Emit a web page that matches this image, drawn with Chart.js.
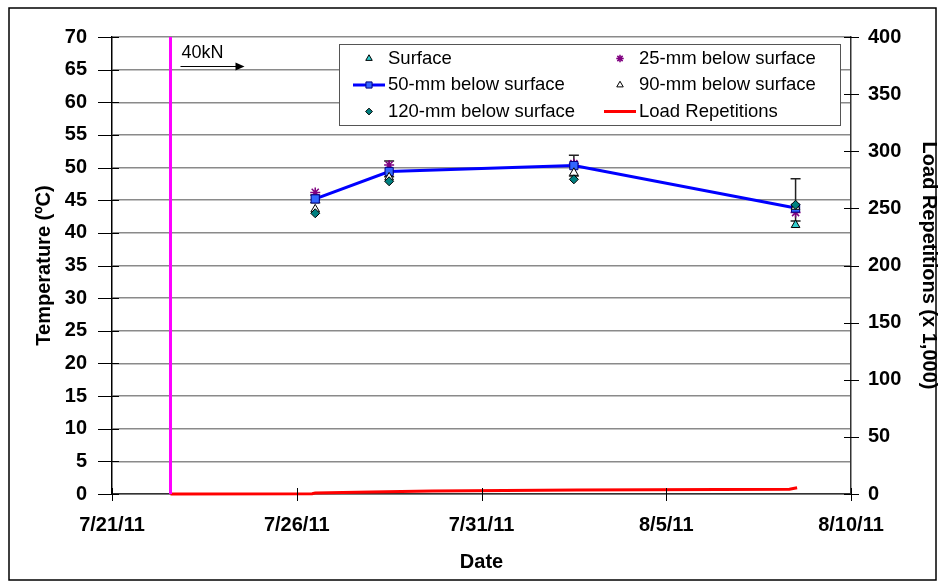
<!DOCTYPE html>
<html>
<head>
<meta charset="utf-8">
<script src="https://cdn.jsdelivr.net/npm/chart.js@4.4.1/dist/chart.umd.min.js"></script>
<style>
  body { margin: 0; background: #fff; }
  canvas { display: block; }
</style>
</head>
<body>
<canvas id="temp-chart" width="945" height="588"></canvas>
<script>
// readings (taken around noon)
const sampleDates = ['2011-07-26T12:00', '2011-07-28T12:00', '2011-08-02T12:00', '2011-08-08T12:00'];
const surface = [45.4, 49.5, 50.4, 41.2];
const mm25 = [46.2, 50.4, 50.6, 43.1];
const mm50 = [45.2, 49.4, 50.3, 43.8];
const mm90 = [43.6, 48.5, 49.2, 44.0];
const mm120 = [43.0, 47.9, 48.2, 44.3];
const errHigh = [45.8, 51.0, 51.9, 48.3];
const errLow = [44.6, 48.6, 48.7, 41.8];

// cumulative load repetitions (x 1,000)
const loadDates = ['2011-07-22T14:00', '2011-07-26T10:00', '2011-07-26T12:00', '2011-07-28T00:00',
  '2011-07-29T16:00', '2011-08-02T14:00', '2011-08-08T08:00', '2011-08-08T13:00'];
const loadReps = [0, 0.3, 0.9, 1.7, 2.6, 3.5, 4.2, 5.5];

const loadStart = '2011-07-22T14:00';   // 40kN starts
const tickDates = ['2011-07-21T00:00', '2011-07-26T00:00', '2011-07-31T00:00', '2011-08-05T00:00', '2011-08-10T00:00'];
const tempTicks = [0, 5, 10, 15, 20, 25, 30, 35, 40, 45, 50, 55, 60, 65, 70];
const repTicks = [0, 50, 100, 150, 200, 250, 300, 350, 400];

const FONT = "'Liberation Sans', Arial, sans-serif";
const ms = s => Date.parse(s + ':00Z');
const pts = (xs, ys) => xs.map((d, i) => ({ x: ms(d), y: ys[i] }));
const fmtDate = v => {
  const d = new Date(v);
  return (d.getUTCMonth() + 1) + '/' + d.getUTCDate() + '/' + String(d.getUTCFullYear()).slice(2);
};

const crossTicks = {
  id: 'crossTicks',
  afterDatasetsDraw(chart) {
    const { ctx, chartArea: a, scales } = chart;
    ctx.save();
    ctx.strokeStyle = '#000';
    ctx.lineWidth = 1;
    const line = (x1, y1, x2, y2) => { ctx.beginPath(); ctx.moveTo(x1, y1); ctx.lineTo(x2, y2); ctx.stroke(); };
    scales.x.ticks.forEach(t => {
      const px = Math.round(scales.x.getPixelForValue(t.value)) + 0.5;
      line(px, a.bottom - 6, px, a.bottom + 7);
    });
    scales.y.ticks.forEach(t => {
      const py = Math.round(scales.y.getPixelForValue(t.value)) + 0.5;
      line(a.left - 14, py, a.left + 7, py);
    });
    scales.y2.ticks.forEach(t => {
      const py = Math.round(scales.y2.getPixelForValue(t.value)) + 0.5;
      line(a.right - 7, py, a.right + 8, py);
    });
    ctx.restore();
  }
};

const errorBars = {
  id: 'errorBars',
  beforeDatasetsDraw(chart) {
    const { ctx, scales: { x, y } } = chart;
    ctx.save();
    ctx.strokeStyle = '#222';
    ctx.lineWidth = 1.5;
    sampleDates.forEach((d, i) => {
      const px = x.getPixelForValue(ms(d));
      const top = y.getPixelForValue(errHigh[i]);
      const bot = y.getPixelForValue(errLow[i]);
      ctx.beginPath();
      ctx.moveTo(px, top); ctx.lineTo(px, bot);
      ctx.moveTo(px - 5, top); ctx.lineTo(px + 5, top);
      ctx.moveTo(px - 5, bot); ctx.lineTo(px + 5, bot);
      ctx.stroke();
    });
    ctx.restore();
  }
};

const loadNote = {
  id: 'loadNote',
  afterDatasetsDraw(chart) {
    const { ctx, chartArea: a, scales: { x } } = chart;
    const x0 = x.getPixelForValue(ms(loadStart)) + 10;
    ctx.save();
    ctx.fillStyle = '#000';
    ctx.strokeStyle = '#000';
    ctx.font = '18px ' + FONT;
    ctx.textBaseline = 'middle';
    ctx.fillText('40kN', x0 + 1, a.top + 16);
    const ay = a.top + 29.5;
    ctx.lineWidth = 1.2;
    ctx.beginPath(); ctx.moveTo(x0, ay); ctx.lineTo(x0 + 58, ay); ctx.stroke();
    ctx.beginPath(); ctx.moveTo(x0 + 64, ay); ctx.lineTo(x0 + 55, ay - 4); ctx.lineTo(x0 + 55, ay + 4); ctx.closePath(); ctx.fill();
    ctx.restore();
  }
};

const boxLegend = {
  id: 'boxLegend',
  afterDatasetsDraw(chart) {
    const { ctx } = chart;
    const ds = chart.data.datasets;
    const rows = [[0, 1], [2, 3], [4, 5]];
    const colX = [369, 620];
    const rowY = [58.5, 85, 111.5];
    ctx.save();
    ctx.fillStyle = '#fff';
    ctx.fillRect(340, 44, 501, 81);
    ctx.strokeStyle = '#555';
    ctx.lineWidth = 1;
    ctx.strokeRect(339.5, 44.5, 501, 81);
    ctx.font = '18.5px ' + FONT;
    ctx.textBaseline = 'middle';
    rows.forEach((r, ri) => r.forEach((di, ci) => {
      const d = ds[di];
      const cx = colX[ci], cy = rowY[ri];
      if (d.showLine !== false) {
        ctx.strokeStyle = d.borderColor;
        ctx.lineWidth = d.borderWidth;
        ctx.beginPath(); ctx.moveTo(cx - 16, cy); ctx.lineTo(cx + 16, cy); ctx.stroke();
      }
      if (d.pointRadius > 0) {
        ctx.fillStyle = d.pointBackgroundColor;
        ctx.strokeStyle = d.pointBorderColor;
        ctx.lineWidth = d.pointBorderWidth;
        Chart.helpers.drawPoint(ctx, { pointStyle: d.pointStyle, radius: d.pointRadius * 0.75, borderWidth: d.pointBorderWidth }, cx, cy);
      }
      ctx.fillStyle = '#000';
      ctx.fillText(d.label, cx + 19, cy);
    }));
    ctx.restore();
  }
};

const outerBorder = {
  id: 'outerBorder',
  afterDraw(chart) {
    const { ctx } = chart;
    ctx.save();
    ctx.strokeStyle = '#000';
    ctx.lineWidth = 1.5;
    ctx.strokeRect(9, 8, 927, 572);
    ctx.restore();
  }
};

const marker = (style, radius, bg, border, bw) => ({
  pointStyle: style, pointRadius: radius, pointBackgroundColor: bg,
  pointBorderColor: border, pointBorderWidth: bw, pointHoverRadius: radius
});

new Chart(document.getElementById('temp-chart'), {
  type: 'line',
  data: {
    datasets: [
      { label: 'Surface', data: pts(sampleDates, surface), yAxisID: 'y', showLine: false, order: 6,
        ...marker('triangle', 5, '#33CCCC', '#000', 1) },
      { label: '25-mm below surface', data: pts(sampleDates, mm25), yAxisID: 'y', showLine: false, order: 5,
        ...marker('star', 5, '#800080', '#800080', 1.5) },
      { label: '50-mm below surface', data: pts(sampleDates, mm50), yAxisID: 'y', order: 4,
        borderColor: '#0000FF', borderWidth: 3, ...marker('rect', 5.8, '#3366FF', '#000080', 1) },
      { label: '90-mm below surface', data: pts(sampleDates, mm90), yAxisID: 'y', showLine: false, order: 3,
        ...marker('triangle', 5, '#FFFFFF', '#000', 1) },
      { label: '120-mm below surface', data: pts(sampleDates, mm120), yAxisID: 'y', showLine: false, order: 2,
        ...marker('rectRot', 4.5, '#008080', '#000', 1) },
      { label: 'Load Repetitions', data: pts(loadDates, loadReps), yAxisID: 'y2', order: 1,
        borderColor: '#FF0000', borderWidth: 3, pointRadius: 0, pointHoverRadius: 0, clip: false },
      { label: '40kN', data: [{ x: ms(loadStart), y: 0 }, { x: ms(loadStart), y: 70 }], yAxisID: 'y', order: 0,
        borderColor: '#FF00FF', borderWidth: 3, pointRadius: 0, pointHoverRadius: 0 }
    ]
  },
  options: {
    responsive: false,
    animation: false,
    events: [],
    layout: { padding: { top: 35, left: 0, right: 0, bottom: 0 } },
    plugins: { legend: { display: false }, tooltip: { enabled: false } },
    scales: {
      x: {
        type: 'linear',
        position: 'bottom',
        min: ms(tickDates[0]),
        max: ms(tickDates[tickDates.length - 1]),
        afterBuildTicks: s => { s.ticks = tickDates.map(d => ({ value: ms(d) })); },
        afterFit: s => { s.height = 94; },
        grid: { display: false, drawTicks: false },
        border: { color: '#333', width: 1.5 },
        ticks: { callback: fmtDate, padding: 19, maxRotation: 0, color: '#000', font: { family: FONT, size: 20, weight: 'bold' } },
        title: { display: true, text: 'Date', color: '#000', padding: { bottom: 14 }, font: { family: FONT, size: 20, weight: 'bold' } }
      },
      y: {
        position: 'left',
        min: tempTicks[0],
        max: tempTicks[tempTicks.length - 1],
        afterBuildTicks: s => { s.ticks = tempTicks.map(v => ({ value: v })); },
        afterFit: s => { s.width = 112; },
        grid: { color: '#8a8a8a', lineWidth: 1.5, drawTicks: false },
        border: { color: '#000', width: 1.5 },
        ticks: { padding: 25, color: '#000', font: { family: FONT, size: 20, weight: 'bold' } },
        title: { display: true, text: 'Temperature (ºC)', color: '#000', padding: { top: 32 }, font: { family: FONT, size: 20, weight: 'bold' } }
      },
      y2: {
        position: 'right',
        min: repTicks[0],
        max: repTicks[repTicks.length - 1],
        afterBuildTicks: s => { s.ticks = repTicks.map(v => ({ value: v })); },
        afterFit: s => { s.width = 94; },
        grid: { display: false, drawTicks: false },
        border: { color: '#333', width: 1.5 },
        ticks: { padding: 17, color: '#000', font: { family: FONT, size: 20, weight: 'bold' } },
        title: { display: true, text: 'Load Repetitions (x 1,000)', color: '#000', padding: { top: 4 }, font: { family: FONT, size: 20, weight: 'bold' } }
      }
    }
  },
  plugins: [errorBars, crossTicks, loadNote, boxLegend, outerBorder]
});
</script>
</body>
</html>
